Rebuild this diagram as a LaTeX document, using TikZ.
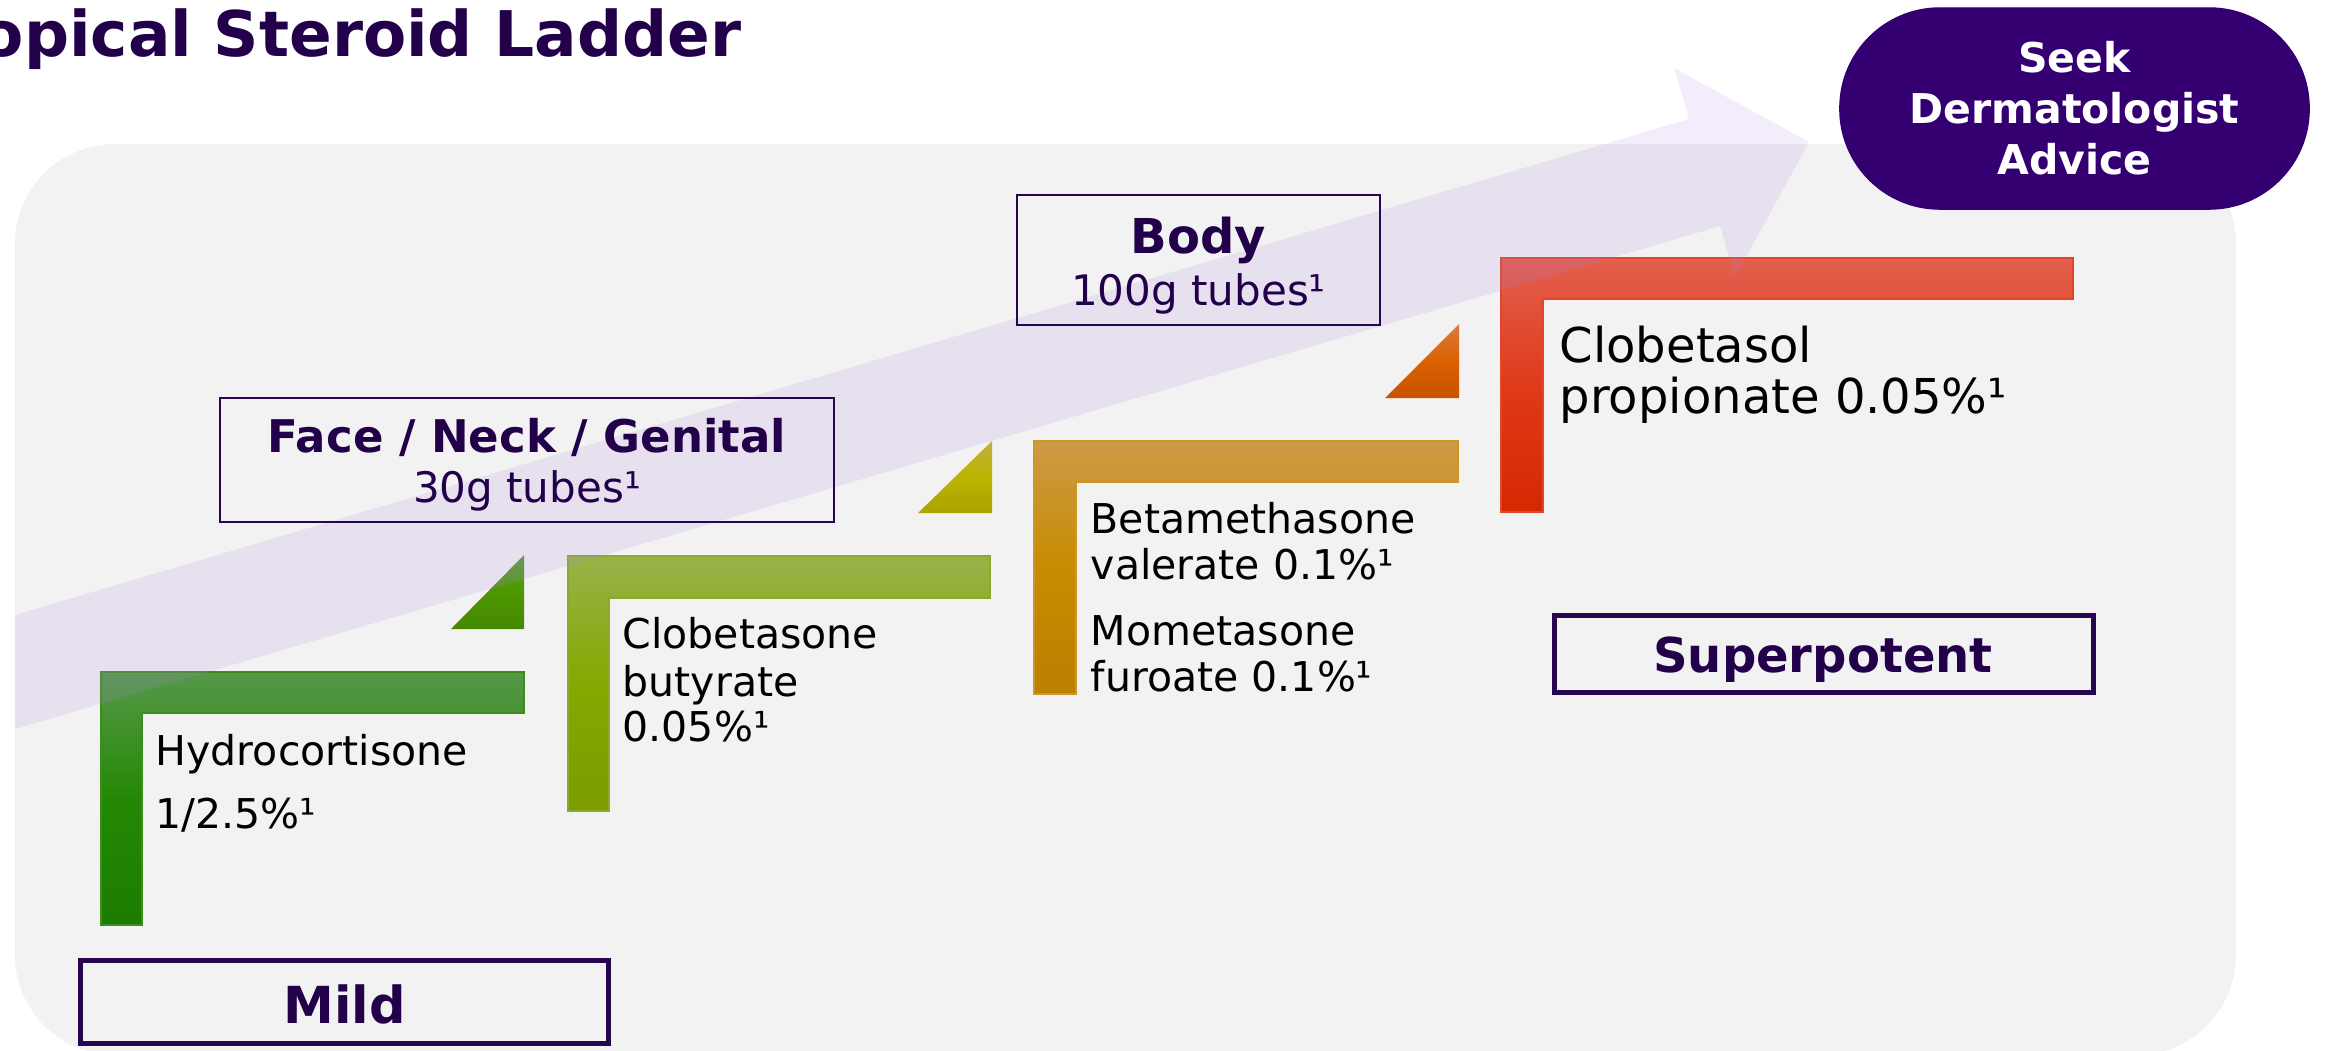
\documentclass[tikz,border=0pt]{standalone}
\usepackage{fontspec}
\setmainfont{DejaVu Sans}
\definecolor{bggrey}{HTML}{F2F2F2}
\definecolor{darkpurple}{HTML}{22004A}
\definecolor{boxpurple}{HTML}{25064F}
\definecolor{seekfill}{HTML}{340071}
\definecolor{arrowpurple}{RGB}{175,135,229}
\tikzset{
  drug/.style={anchor=base west, inner sep=0pt, text=black, font=\fontsize{11.67}{14}\selectfont},
  drugbig/.style={drug, font=\fontsize{13.66}{16}\selectfont},
  boxhead/.style={anchor=base, inner sep=0pt, text=darkpurple, font=\bfseries\fontsize{12.8}{15}\selectfont},
  boxsub/.style={anchor=base, inner sep=0pt, text=darkpurple, font=\fontsize{11.95}{14}\selectfont},
  thinbox/.style={draw=boxpurple, line width=0.6pt, inner sep=0pt},
  thickbox/.style={draw=boxpurple, line width=1.45pt, inner sep=0pt},
  levellabel/.style={anchor=base, inner sep=0pt, text=darkpurple, font=\bfseries\fontsize{13.66}{16}\selectfont},
  seekbox/.style={fill=seekfill, draw=seekfill, rounded corners=1cm, text=white, align=center,
    minimum width=4.69cm, minimum height=2.01cm, inner sep=0pt, font=\bfseries\fontsize{11.67}{14.51}\selectfont},
  stepbar/.style={line width=0.4pt},
}
\begin{document}
\begin{tikzpicture}[x=0.01cm, y=-0.01cm]
\useasboundingbox (0,0) rectangle (2326,1050);
\clip (0,0) rectangle (2326,1050);
% background panel
\fill[bggrey, rounded corners=1cm] (15,144) rectangle (2236,1055);
% steps
\shade[top color={rgb,255:red,86;green,152;blue,74}, bottom color={rgb,255:red,28;green,124;blue,0}, middle color={rgb,255:red,36;green,136;blue,4}]
  (101,672) -- (524,672) -- (524,713) -- (142,713) -- (142,925) -- (101,925) -- cycle;
\draw[stepbar, draw={rgb,255:red,60;green,140;blue,30}] (101,672) -- (524,672) -- (524,713) -- (142,713) -- (142,925) -- (101,925) -- cycle;
\shade[top color={rgb,255:red,152;green,178;blue,74}, bottom color={rgb,255:red,124;green,156;blue,0}, middle color={rgb,255:red,132;green,169;blue,0}]
  (568,556) -- (990,556) -- (990,598) -- (609,598) -- (609,811) -- (568,811) -- cycle;
\draw[stepbar, draw={rgb,255:red,140;green,170;blue,40}] (568,556) -- (990,556) -- (990,598) -- (609,598) -- (609,811) -- (568,811) -- cycle;
\shade[top color={rgb,255:red,204;green,154;blue,72}, bottom color={rgb,255:red,186;green,128;blue,0}, middle color={rgb,255:red,200;green,140;blue,0}]
  (1034,441) -- (1458,441) -- (1458,482) -- (1076,482) -- (1076,694) -- (1034,694) -- cycle;
\draw[stepbar, draw={rgb,255:red,206;green,150;blue,40}] (1034,441) -- (1458,441) -- (1458,482) -- (1076,482) -- (1076,694) -- (1034,694) -- cycle;
\shade[top color={rgb,255:red,227;green,95;blue,78}, bottom color={rgb,255:red,213;green,40;blue,0}, middle color={rgb,255:red,224;green,58;blue,26}]
  (1501,258) -- (2073,258) -- (2073,299) -- (1543,299) -- (1543,512) -- (1501,512) -- cycle;
\draw[stepbar, draw={rgb,255:red,226;green,70;blue,40}] (1501,258) -- (2073,258) -- (2073,299) -- (1543,299) -- (1543,512) -- (1501,512) -- cycle;
% triangles
\shade[top color={rgb,255:red,93;green,154;blue,58}, bottom color={rgb,255:red,68;green,136;blue,0}, middle color={rgb,255:red,78;green,152;blue,0}]
  (451,629) -- (524,629) -- (524,555) -- cycle;
\shade[top color={rgb,255:red,192;green,176;blue,64}, bottom color={rgb,255:red,172;green,162;blue,0}, middle color={rgb,255:red,188;green,180;blue,0}]
  (918,513) -- (992,513) -- (992,441) -- cycle;
\shade[top color={rgb,255:red,221;green,122;blue,64}, bottom color={rgb,255:red,200;green,82;blue,0}, middle color={rgb,255:red,219;green,96;blue,0}]
  (1385,398) -- (1459,398) -- (1459,324) -- cycle;
% big translucent arrow
\fill[arrowpurple, fill opacity=0.16]
  (15,615) -- (1689,119) -- (1674,68) -- (1809,142) -- (1735,277) -- (1720,226) -- (15,729) -- cycle;
% title
\node[anchor=base east, inner sep=0pt, text=darkpurple, font=\bfseries\fontsize{17.9}{21}\selectfont] (title) at (742,56) {Topical Steroid Ladder};
% site boxes
\node[thinbox, minimum width=6.14cm, minimum height=1.24cm] (facebox) at (527,460) {};
\node[boxhead] (facehead) at (527,452) {Face / Neck / Genital};
\node[boxsub] (facesub) at (527,502) {30g tubes¹};
\node[thinbox, minimum width=3.63cm, minimum height=1.30cm] (bodybox) at (1198.5,260) {};
\node[boxhead, font=\bfseries\fontsize{13.66}{16}\selectfont] (bodyhead) at (1198.5,253) {Body};
\node[boxsub] (bodysub) at (1198.5,305) {100g tubes¹};
% level boxes
\node[thickbox, minimum width=5.28cm, minimum height=0.83cm] (mildbox) at (344.5,1002) {};
\node[levellabel, font=\bfseries\fontsize{14.51}{17}\selectfont] (mild) at (344.5,1023) {Mild};
\node[thickbox, minimum width=5.39cm, minimum height=0.77cm] (superbox) at (1824,654) {};
\node[levellabel] (super) at (1823,672) {Superpotent};
% drug labels
\node[drug] (hc1) at (155,765) {Hydrocortisone};
\node[drug] (hc2) at (155,828) {1/2.5\%¹};
\node[drug] (cb1) at (622,648) {Clobetasone};
\node[drug] (cb2) at (622,696) {butyrate};
\node[drug] (cb3) at (622,741) {0.05\%¹};
\node[drug] (bm1) at (1090,533) {Betamethasone};
\node[drug] (bm2) at (1090,579) {valerate 0.1\%¹};
\node[drug] (mf1) at (1090,645) {Mometasone};
\node[drug] (mf2) at (1090,691) {furoate 0.1\%¹};
\node[drugbig] (cp1) at (1559,362) {Clobetasol};
\node[drugbig] (cp2) at (1559,413) {propionate 0.05\%¹};
% dermatologist
\node[seekbox] (seek) at (2074.5,108.5) {Seek\\Dermatologist\\Advice};
\end{tikzpicture}
\end{document}
